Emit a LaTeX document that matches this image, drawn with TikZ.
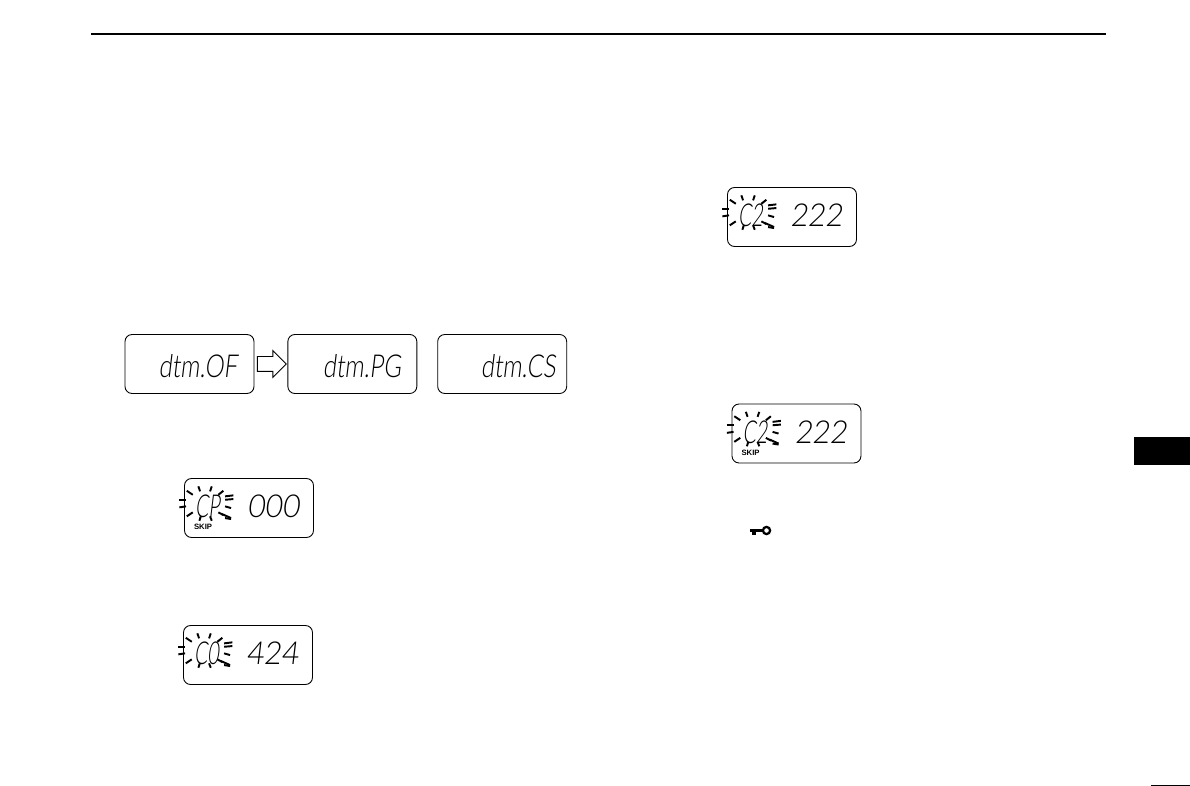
\documentclass[tikz,border=0pt]{standalone}
\usepackage{fontspec}
\usepackage{xcolor}
\usepackage{tikz}
\usetikzlibrary{positioning,shapes.arrows}
\newfontfamily\lcdfont[FakeSlant=0.12,FakeStretch=0.76]{Lato Light}
\newfontfamily\valfont[FakeSlant=0.12,FakeStretch=0.95]{Lato Light}
\newfontfamily\chnfont[FakeSlant=0.12,FakeStretch=0.62]{Lato Light}
\newfontfamily\tagfont{Liberation Sans}

\begin{document}
\begin{tikzpicture}[
        x=0.02cm,y=-0.02cm,
        lcdbox/.style={draw,rounded corners=4pt,line width=0.5pt,minimum width=2.58cm,
                    minimum height=1.18cm,inner sep=0pt},
        lcdtxt/.style={font=\lcdfont\fontsize{18}{18}\selectfont,inner sep=0pt,anchor=base east},
        valtxt/.style={lcdtxt,font=\valfont\fontsize{18}{18}\selectfont},
        chntxt/.style={lcdtxt,font=\chnfont\fontsize{18}{18}\selectfont},
        skiptag/.style={font=\tagfont\bfseries\fontsize{4.4}{6}\selectfont,inner sep=0pt},
        hollowarr/.style={draw,single arrow,line width=0.5pt,inner sep=0.14cm,minimum height=0.58cm,
                    single arrow head extend=0.12cm,single arrow head indent=0cm},
        ray/.style={line width=1.1pt},
        blinkrays/.pic={
          \foreach \xa/\ya/\xb/\yb in {14.3/8.3/16/13.3,27.7/8.3/26/13.3,2.7/12.7/8.7/16.7,39.3/12.7/34.3/16.7,
              -4.7/21.7/2/21.7,-4.7/29.3/2/28.3,2.7/38.3/8.7/34.3,15.3/42.7/16.7/38.3,27.7/42.7/26/38.3,
              34.3/34.3/39.3/37,41/18.3/49.3/17.3,41/21.7/49.3/21,41/28.3/47/30,38/36/47/40,41/40/47/41}
            \draw[ray] (\xa,\ya) -- (\xb,\yb);
        }
      ]
        \useasboundingbox (0,0) rectangle (1190,786);
        % header and page furniture
        \coordinate (headL) at (91,34);
        \coordinate (headR) at (1106,34);
        \draw[line width=1.1pt] (headL) -- (headR);
        \fill (1134,437) rectangle (1190,465);
        \fill (1151,784.7) rectangle (1190,786);

        % first row
        \node[lcdbox] (OF) at (189.5,364) {};
        \node[lcdbox,right=0.66cm of OF] (PG) {};
        \node[lcdbox,right=0.4cm of PG] (CS) {};
        \node[hollowarr,right=0.05cm of OF] (AR) {};
        \node[lcdtxt] (OFt) at ([xshift=-0.34cm,yshift=-0.86cm]OF.north east) {dtm.OF};
        \node[lcdtxt] (PGt) at ([xshift=-0.32cm,yshift=-0.86cm]PG.north east) {dtm.PG};
        \node[lcdtxt] (CSt) at ([xshift=-0.22cm,yshift=-0.86cm]CS.north east) {dtm.CS};

        % channel displays
        \node[lcdbox] (CP) at (249,508) {};
        \node[lcdbox] (C0) at (248,655) {};
        \node[lcdbox] (C2) at (792,217) {};
        \node[lcdbox] (C2S) at (796.5,433.5) {};
        \foreach \nm/\chn/\val in {CP/CP/000,C0/C0/424,C2/C2/222,C2S/C2/222} {
          \node[chntxt] (\nm c) at ([xshift=0.72cm,yshift=-0.79cm]\nm.north west) {\chn};
          \node[valtxt] (\nm v) at ([xshift=-0.28cm,yshift=-0.79cm]\nm.north east) {\val};
          \pic at (\nm.north west) {blinkrays};
        }
        \node[skiptag] (SKa) at ([xshift=0.38cm,yshift=-0.98cm]CP.north west) {SKIP};
        \node[skiptag] (SKb) at ([xshift=0.38cm,yshift=-0.98cm]C2S.north west) {SKIP};

        % key symbol
        \draw[line width=1.3pt] (766.5,530.5) circle (3.6);
        \fill (750,529) rectangle (762,532);
        \fill (752,532) rectangle (756,535);
      \end{tikzpicture}
\end{document}
